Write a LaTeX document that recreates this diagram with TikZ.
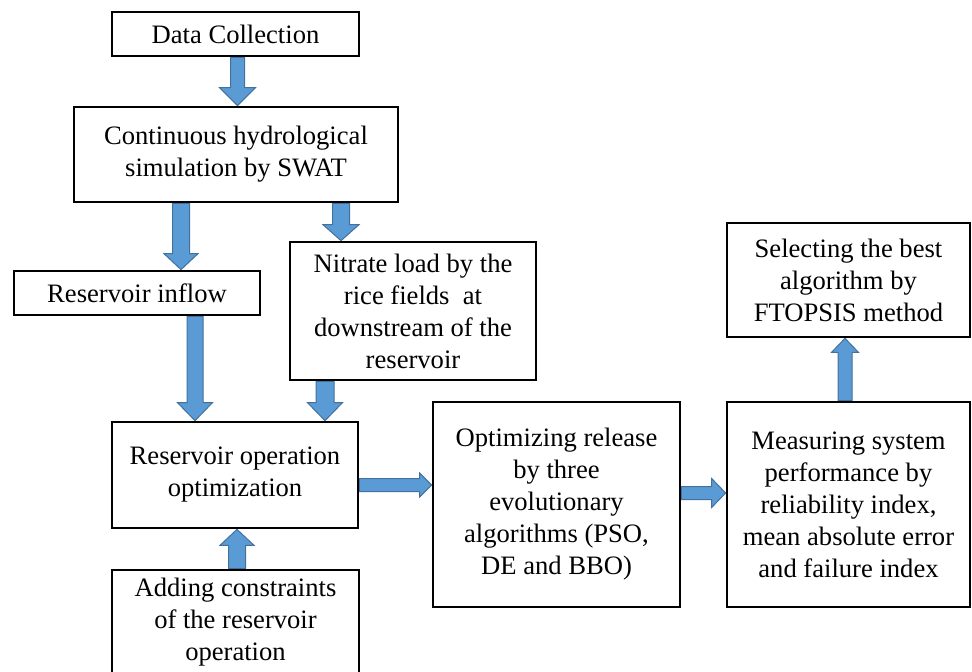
\documentclass[tikz,border=0pt]{standalone}
\usepackage{fontspec}
\setmainfont{Liberation Serif}
\usetikzlibrary{calc,backgrounds}
\definecolor{arrfill}{HTML}{5B9BD5}
\definecolor{arrline}{HTML}{41719C}
% #1 start, #2 end (tip), #3 shaft half width, #4 head half width, #5 head length
\newcommand\blockarrow[5]{%
  \coordinate (bahead) at ($(#2)!#5pt!(#1)$);
  \filldraw[barrow] ($(#1)!#3pt!90:(#2)$) -- ($(bahead)!#3pt!90:(#2)$)
    -- ($(bahead)!#4pt!90:(#2)$) -- (#2) -- ($(bahead)!#4pt!-90:(#2)$)
    -- ($(bahead)!#3pt!-90:(#2)$) -- ($(#1)!#3pt!-90:(#2)$) -- cycle;}
\begin{document}
\begin{tikzpicture}[x=1pt,y=-1pt,
  box/.style={draw=black, line width=2.7pt, inner sep=0pt, align=center,
    font=\fontsize{26.6}{32}\selectfont},
  barrow/.style={fill=arrfill, draw=arrline, line width=1pt, line join=miter}]
\useasboundingbox (0,0) rectangle (972,672);
\node[box, minimum width=247pt, minimum height=44pt] (dc) at (235.5,34) {Data Collection};
\node[box, minimum width=324pt, minimum height=95pt] (cont) at (236,154.5) {Continuous hydrological\\simulation by SWAT};
\node[box, minimum width=246pt, minimum height=44pt] (ri) at (137,293) {Reservoir inflow};
\node[box, minimum width=246pt, minimum height=138pt] (nit) at (413,311) {Nitrate load by the\\rice fields\ \ at\\downstream of the\\reservoir};
\node[box, minimum width=246pt, minimum height=106pt] (roo) at (235,475) {Reservoir operation\\optimization};
\node[box, minimum width=247pt, minimum height=104pt] (add) at (235.5,622) {Adding constraints\\of the reservoir\\operation};
\node[box, minimum width=247pt, minimum height=205pt] (opt) at (556.5,504.5) {Optimizing release\\by three\\evolutionary\\algorithms (PSO,\\DE and BBO)};
\node[box, minimum width=243pt, minimum height=205pt] (meas) at (848.5,504.5) {Measuring system\\performance by\\reliability index,\\mean absolute error\\and failure index};
\node[box, minimum width=243pt, minimum height=114pt] (sel) at (848.5,280) {Selecting the best\\algorithm by\\FTOPSIS method};
\begin{pgfonlayer}{background}
  \coordinate (a1s) at ($(dc.south)+(2,0)$);   \coordinate (a1e) at ($(cont.north)+(1.5,0)$);
  \coordinate (a2s) at ($(cont.south)+(-55,0)$); \coordinate (a2e) at ($(ri.north)+(44,0)$);
  \coordinate (a3s) at ($(ri.south)+(58,0)$);   \coordinate (a3e) at ($(roo.north)+(-40,0)$);
  \coordinate (a4s) at ($(cont.south)+(105,0)$); \coordinate (a4e) at ($(nit.north)+(-72,0)$);
  \coordinate (a5s) at ($(nit.south)+(-88,0)$); \coordinate (a5e) at ($(roo.north)+(90,0)$);
  \coordinate (a6s) at ($(roo.east)+(0,10)$);   \coordinate (a6e) at ($(opt.west)+(0,-19.5)$);
  \coordinate (a7s) at ($(opt.east)+(0,-11.5)$); \coordinate (a7e) at ($(meas.west)+(0,-11.5)$);
  \coordinate (a8s) at ($(add.north)+(1.5,0)$); \coordinate (a8e) at ($(roo.south)+(2,0)$);
  \coordinate (a9s) at ($(meas.north)+(-3.5,0)$); \coordinate (a9e) at ($(sel.south)+(-3.5,0)$);
  \blockarrow{a1s}{a1e}{7}{18}{18}
  \blockarrow{a2s}{a2e}{8.5}{17}{16}
  \blockarrow{a3s}{a3e}{8}{17.5}{18}
  \blockarrow{a4s}{a4e}{8.5}{18}{16}
  \blockarrow{a5s}{a5e}{9}{17.5}{18}
  \blockarrow{a6s}{a6e}{6.5}{12}{12}
  \blockarrow{a7s}{a7e}{6.5}{14.5}{14}
  \blockarrow{a8s}{a8e}{8.5}{17}{16}
  \blockarrow{a9s}{a9e}{7}{13.5}{14}
\end{pgfonlayer}
\end{tikzpicture}
\end{document}
